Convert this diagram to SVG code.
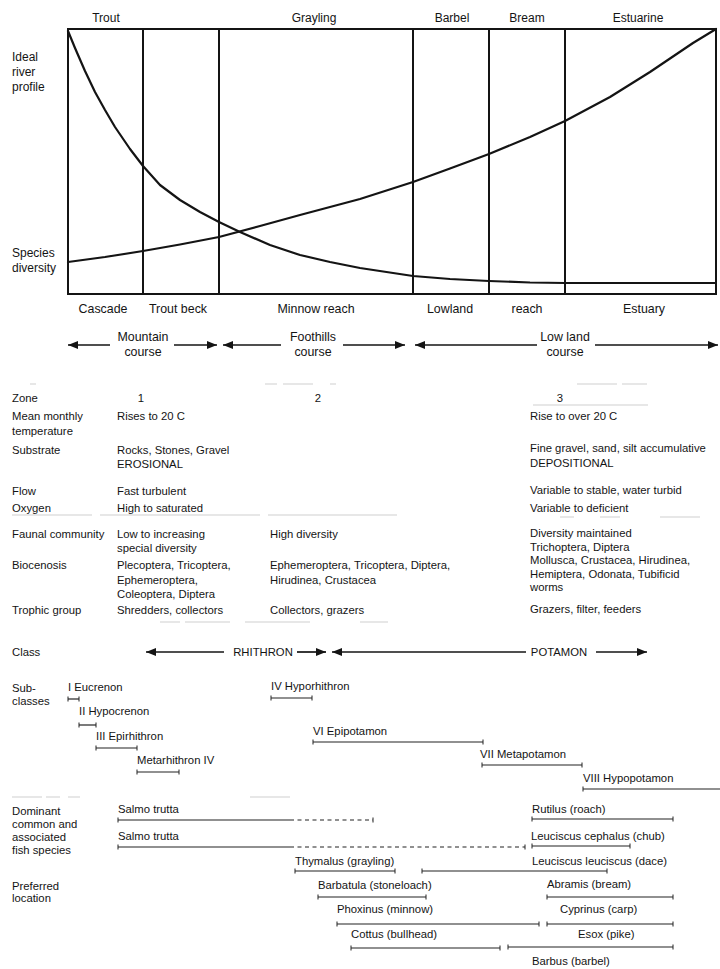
<svg xmlns="http://www.w3.org/2000/svg" width="720" height="969" viewBox="0 0 720 969">
<style>
text{font-family:"Liberation Sans",Arial,sans-serif;fill:#141414}
.h{font-size:12px}
.c{font-size:12.4px}
.s{font-size:11.3px}
.m{text-anchor:middle}
.frame{stroke:#141414;stroke-width:2;fill:none}
.curve{stroke:#141414;stroke-width:2.2;fill:none;stroke-linejoin:round;stroke-linecap:round}
.arr{stroke:#141414;stroke-width:1.7;fill:none}
.bar{stroke:#222;stroke-width:1.2;fill:none}
.dash{stroke:#222;stroke-width:1.2;fill:none;stroke-dasharray:4 3.5}
.faint{stroke:#cfcfcf;stroke-width:1;fill:none}
</style>
<defs>
<marker id="ah" viewBox="0 0 10 8" refX="10" refY="4" markerWidth="10" markerHeight="8" markerUnits="userSpaceOnUse" orient="auto-start-reverse">
<path d="M0,0 L10,4 L0,8 Z" fill="#141414"/>
</marker>
<marker id="tk" viewBox="-1 -3 2 6" refX="0" refY="0" markerWidth="2" markerHeight="6" markerUnits="userSpaceOnUse" orient="auto">
<path d="M0,-2.5 V2.5" stroke="#222" stroke-width="1"/>
</marker>
</defs>

<g id="chart">
<rect class="frame" x="68" y="29" width="648" height="265"/>
<path class="frame" d="M143,29V294M219,29V294M413,29V294M489,29V294M565,29V294"/>
<polyline class="curve" points="68,31 75,48 85,71 95,92 105,110 115,127 130,149 143,166 160,185 180,200 200,212 219,222 240,232 270,245 300,255 330,262 360,268 413,276 450,279 489,281 530,282.5 565,283 716,283"/>
<polyline class="curve" points="68,262 105,257 143,251 180,244.5 219,237 260,226 300,215 360,199 413,182 450,168.5 489,154 530,137 565,121 610,97 650,72 693,43 716,29"/>
</g>

<g id="top-labels">
<text class="h m" x="106" y="22">Trout</text>
<text class="h m" x="314" y="22">Grayling</text>
<text class="h m" x="452" y="22">Barbel</text>
<text class="h m" x="527" y="22">Bream</text>
<text class="h m" x="638" y="22">Estuarine</text>
<text class="h" x="12" y="61">Ideal</text>
<text class="h" x="12" y="76">river</text>
<text class="h" x="12" y="91">profile</text>
<text class="h" x="12" y="257">Species</text>
<text class="h" x="12" y="272">diversity</text>
</g>

<g id="reach-labels">
<text class="c m" x="103" y="313">Cascade</text>
<text class="c m" x="178" y="313">Trout beck</text>
<text class="c m" x="316" y="313">Minnow reach</text>
<text class="c m" x="450" y="313">Lowland</text>
<text class="c m" x="527" y="313">reach</text>
<text class="c m" x="644" y="313">Estuary</text>
</g>

<g id="courses">
<text class="c m" x="143" y="341">Mountain</text>
<text class="c m" x="143" y="356">course</text>
<text class="c m" x="313" y="341">Foothills</text>
<text class="c m" x="313" y="356">course</text>
<text class="c m" x="565" y="341">Low land</text>
<text class="c m" x="565" y="356">course</text>
</g>

<g id="connectors">
<line class="arr" x1="110" y1="345" x2="68" y2="345" marker-end="url(#ah)"/>
<line class="arr" x1="174" y1="345" x2="217" y2="345" marker-end="url(#ah)"/>
<line class="arr" x1="281" y1="345" x2="223" y2="345" marker-end="url(#ah)"/>
<line class="arr" x1="343" y1="345" x2="405" y2="345" marker-end="url(#ah)"/>
<line class="arr" x1="537" y1="345" x2="415" y2="345" marker-end="url(#ah)"/>
<line class="arr" x1="595" y1="345" x2="718" y2="345" marker-end="url(#ah)"/>
<line class="arr" x1="224" y1="652" x2="146" y2="652" marker-end="url(#ah)"/>
<line class="arr" x1="297" y1="652" x2="326" y2="652" marker-end="url(#ah)"/>
<line class="arr" x1="526" y1="652" x2="332" y2="652" marker-end="url(#ah)"/>
<line class="arr" x1="596" y1="652" x2="647" y2="652" marker-end="url(#ah)"/>
</g>

<g id="faint-rules">
<path class="faint" d="M30,384h6M265,384h12M283,384h30M330,384h6M577,384h40M622,384h25M533,405h115M12,515h80M100,515h160M268,515h129M560,517h14M600,517h20M660,517h40M160,622h20M185,622h45M245,622h65M360,622h28M12,797h30M46,797h14M68,797h12M250,797h40"/>
</g>

<g id="table">
<text class="s" x="12" y="402">Zone</text>
<text class="s m" x="141" y="402">1</text>
<text class="s m" x="318" y="402">2</text>
<text class="s m" x="560" y="402">3</text>

<text class="s" x="12" y="420">Mean monthly</text>
<text class="s" x="12" y="435">temperature</text>
<text class="s" x="117" y="420">Rises to 20 C</text>
<text class="s" x="530" y="420">Rise to over 20 C</text>

<text class="s" x="12" y="454">Substrate</text>
<text class="s" x="117" y="454">Rocks, Stones, Gravel</text>
<text class="s" x="117" y="468">EROSIONAL</text>
<text class="s" x="530" y="452">Fine gravel, sand, silt accumulative</text>
<text class="s" x="530" y="467">DEPOSITIONAL</text>

<text class="s" x="12" y="495">Flow</text>
<text class="s" x="117" y="495">Fast turbulent</text>
<text class="s" x="530" y="494">Variable to stable, water turbid</text>

<text class="s" x="12" y="512">Oxygen</text>
<text class="s" x="117" y="512">High to saturated</text>
<text class="s" x="530" y="512">Variable to deficient</text>

<text class="s" x="12" y="538">Faunal community</text>
<text class="s" x="117" y="538">Low to increasing</text>
<text class="s" x="117" y="552">special diversity</text>
<text class="s" x="270" y="538">High diversity</text>
<text class="s" x="530" y="537">Diversity maintained</text>
<text class="s" x="530" y="551">Trichoptera, Diptera</text>

<text class="s" x="12" y="569">Biocenosis</text>
<text class="s" x="117" y="569">Plecoptera, Tricoptera,</text>
<text class="s" x="117" y="584">Ephemeroptera,</text>
<text class="s" x="117" y="598">Coleoptera, Diptera</text>
<text class="s" x="270" y="569">Ephemeroptera, Tricoptera, Diptera,</text>
<text class="s" x="270" y="584">Hirudinea, Crustacea</text>
<text class="s" x="530" y="564">Mollusca, Crustacea, Hirudinea,</text>
<text class="s" x="530" y="578">Hemiptera, Odonata, Tubificid</text>
<text class="s" x="530" y="591">worms</text>

<text class="s" x="12" y="614">Trophic group</text>
<text class="s" x="117" y="614">Shredders, collectors</text>
<text class="s" x="270" y="614">Collectors, grazers</text>
<text class="s" x="530" y="613">Grazers, filter, feeders</text>
</g>

<g id="class-row">
<text class="s" x="12" y="656">Class</text>
<text class="s m" x="263" y="656">RHITHRON</text>
<text class="s m" x="559" y="656">POTAMON</text>
</g>

<g id="subclasses">
<text class="s" x="12" y="692">Sub-</text>
<text class="s" x="12" y="705">classes</text>
<text class="s" x="68" y="691">I Eucrenon</text>
<line class="bar" x1="68" y1="699" x2="79" y2="699" marker-start="url(#tk)" marker-end="url(#tk)"/>
<text class="s" x="79" y="715">II Hypocrenon</text>
<line class="bar" x1="79" y1="725" x2="96" y2="725" marker-start="url(#tk)" marker-end="url(#tk)"/>
<text class="s" x="96" y="740">III Epirhithron</text>
<line class="bar" x1="96" y1="748" x2="137" y2="748" marker-start="url(#tk)" marker-end="url(#tk)"/>
<text class="s" x="137" y="764">Metarhithron IV</text>
<line class="bar" x1="137" y1="772" x2="179" y2="772" marker-start="url(#tk)" marker-end="url(#tk)"/>
<text class="s" x="271" y="690">IV Hyporhithron</text>
<line class="bar" x1="271" y1="698" x2="312" y2="698" marker-start="url(#tk)" marker-end="url(#tk)"/>
<text class="s" x="313" y="735">VI Epipotamon</text>
<line class="bar" x1="313" y1="742" x2="483" y2="742" marker-start="url(#tk)" marker-end="url(#tk)"/>
<text class="s" x="480" y="758">VII Metapotamon</text>
<line class="bar" x1="482" y1="765" x2="582" y2="765" marker-start="url(#tk)" marker-end="url(#tk)"/>
<text class="s" x="583" y="782">VIII Hypopotamon</text>
<line class="bar" x1="583" y1="789" x2="720" y2="789" marker-start="url(#tk)"/>
</g>

<g id="fish">
<text class="s" x="12" y="815">Dominant</text>
<text class="s" x="12" y="828">common and</text>
<text class="s" x="12" y="841">associated</text>
<text class="s" x="12" y="854">fish species</text>
<text class="s" x="12" y="890">Preferred</text>
<text class="s" x="12" y="902">location</text>

<text class="s" x="118" y="813">Salmo trutta</text>
<line class="bar" x1="118" y1="820" x2="290" y2="820" marker-start="url(#tk)"/>
<line class="dash" x1="290" y1="820" x2="373" y2="820" marker-end="url(#tk)"/>
<text class="s" x="118" y="840">Salmo trutta</text>
<line class="bar" x1="118" y1="847" x2="290" y2="847" marker-start="url(#tk)"/>
<line class="dash" x1="290" y1="847" x2="525" y2="847" marker-end="url(#tk)"/>

<text class="s" x="532" y="813">Rutilus (roach)</text>
<line class="bar" x1="532" y1="819" x2="673" y2="819" marker-start="url(#tk)" marker-end="url(#tk)"/>
<text class="s" x="531" y="840">Leuciscus cephalus (chub)</text>
<line class="bar" x1="532" y1="846" x2="630" y2="846" marker-start="url(#tk)" marker-end="url(#tk)"/>

<text class="s" x="295" y="865">Thymalus (grayling)</text>
<line class="bar" x1="295" y1="871" x2="395" y2="871" marker-start="url(#tk)" marker-end="url(#tk)"/>
<text class="s" x="532" y="865">Leuciscus leuciscus (dace)</text>
<line class="bar" x1="422" y1="871" x2="607" y2="871" marker-start="url(#tk)" marker-end="url(#tk)"/>

<text class="s" x="318" y="889">Barbatula (stoneloach)</text>
<line class="bar" x1="318" y1="897" x2="426" y2="897" marker-start="url(#tk)" marker-end="url(#tk)"/>
<text class="s" x="547" y="888">Abramis (bream)</text>
<line class="bar" x1="547" y1="897" x2="673" y2="897" marker-start="url(#tk)" marker-end="url(#tk)"/>

<text class="s" x="337" y="913">Phoxinus (minnow)</text>
<line class="bar" x1="337" y1="924" x2="539" y2="924" marker-start="url(#tk)" marker-end="url(#tk)"/>
<text class="s" x="560" y="913">Cyprinus (carp)</text>
<line class="bar" x1="547" y1="924" x2="673" y2="924" marker-start="url(#tk)" marker-end="url(#tk)"/>

<text class="s" x="351" y="938">Cottus (bullhead)</text>
<line class="bar" x1="351" y1="948" x2="500" y2="948" marker-start="url(#tk)" marker-end="url(#tk)"/>
<text class="s" x="578" y="938">Esox (pike)</text>
<line class="bar" x1="508" y1="947" x2="673" y2="947" marker-start="url(#tk)" marker-end="url(#tk)"/>

<text class="s" x="532" y="965">Barbus (barbel)</text>
</g>
</svg>
